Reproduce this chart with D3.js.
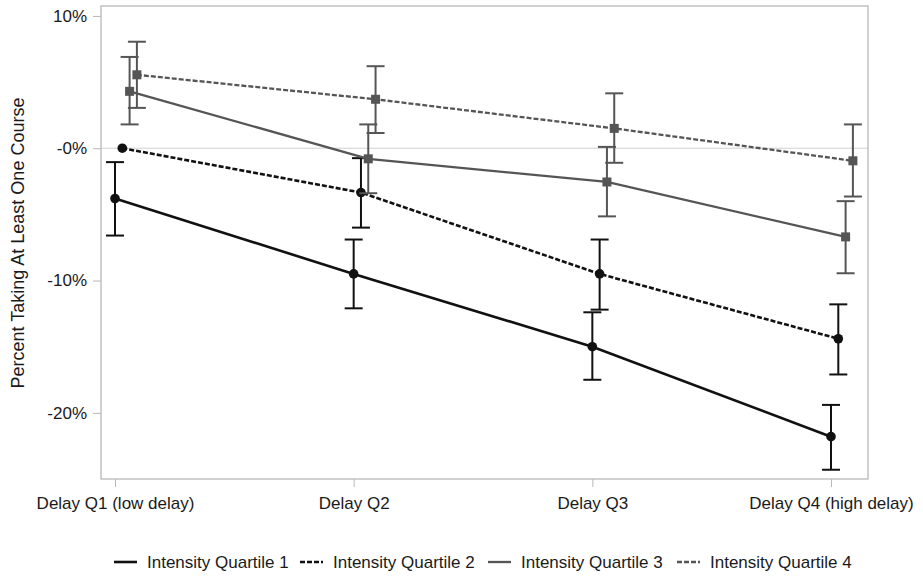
<!DOCTYPE html>
<html lang="en">
<head>
<meta charset="utf-8">
<title>Percent taking at least one course</title>
<script src="https://d3js.org/d3.v7.min.js"></script>
<style>
    body { margin: 0; background: #fff; }
    svg text { font-family: "Liberation Sans", Arial, sans-serif; fill: #1a1a1a; }
    .tick text { font-size: 17px; }
</style>
</head>
<body>
<script>
// categories on the x axis
var categories = ["Delay Q1 (low delay)", "Delay Q2", "Delay Q3", "Delay Q4 (high delay)"];
var seriesNames = ["Intensity Quartile 1", "Intensity Quartile 2", "Intensity Quartile 3", "Intensity Quartile 4"];

// estimates (percent) and 95% bounds
var q1Est = [-3.8, -9.5, -15.0, -21.8];
var q1Lo  = [-6.6, -12.1, -17.5, -24.3];
var q1Hi  = [-1.05, -6.9, -12.4, -19.4];

var q2Est = [0.0, -3.35, -9.5, -14.4];
var q2Lo  = [0.0, -6.0, -12.2, -17.1];
var q2Hi  = [0.0, -0.75, -6.9, -11.8];

var q3Est = [4.3, -0.8, -2.55, -6.7];
var q3Lo  = [1.8, -3.4, -5.15, -9.45];
var q3Hi  = [6.9, 1.8, 0.1, -4.0];

var q4Est = [5.55, 3.7, 1.5, -0.95];
var q4Lo  = [3.05, 1.15, -1.1, -3.65];
var q4Hi  = [8.05, 6.2, 4.15, 1.8];

var yTicks = [10, 0, -10, -20];
var yTickLabels = ["10%", "-0%", "-10%", "-20%"];

var width = 923, height = 577;
var frame = {left: 101, right: 868, top: 6, bottom: 479};

var svg = d3.select("body").append("svg")
    .attr("width", width)
    .attr("height", height);

var x = d3.scaleLinear().domain([0, 3]).range([115, 831]);
var y = d3.scaleLinear().domain([-25, 10.75]).range([frame.bottom, frame.top]);

// dodge each series a little to the right
var dodge = [0, 7.3, 14.6, 21.9];

var series = [
    {name: seriesNames[0], est: q1Est, lo: q1Lo, hi: q1Hi, color: "#111", dash: null, marker: "circle", width: 2.6},
    {name: seriesNames[1], est: q2Est, lo: q2Lo, hi: q2Hi, color: "#111", dash: "5,2", marker: "circle", width: 2.6},
    {name: seriesNames[2], est: q3Est, lo: q3Lo, hi: q3Hi, color: "#555", dash: null, marker: "square", width: 2.3},
    {name: seriesNames[3], est: q4Est, lo: q4Lo, hi: q4Hi, color: "#555", dash: "5,2", marker: "square", width: 2.3}
];

// zero reference line
svg.append("line")
    .attr("x1", frame.left).attr("x2", frame.right)
    .attr("y1", y(0)).attr("y2", y(0))
    .attr("stroke", "#d0d0d0").attr("stroke-width", 1);

// frame
svg.append("rect")
    .attr("x", frame.left).attr("y", frame.top)
    .attr("width", frame.right - frame.left)
    .attr("height", frame.bottom - frame.top)
    .attr("fill", "none").attr("stroke", "#b8b8b8").attr("stroke-width", 1.3);

// y axis
var yAxis = svg.append("g")
    .attr("transform", "translate(" + frame.left + ",0)")
    .call(d3.axisLeft(y)
        .tickValues(yTicks)
        .tickSize(8)
        .tickPadding(6)
        .tickFormat(function(d, i) { return yTickLabels[i]; }));
yAxis.select(".domain").remove();
yAxis.selectAll(".tick line").attr("stroke", "#b8b8b8");

// x axis
var xAxis = svg.append("g")
    .attr("transform", "translate(0," + frame.bottom + ")")
    .call(d3.axisBottom(x)
        .tickValues([0, 1, 2, 3])
        .tickSize(8)
        .tickPadding(10)
        .tickFormat(function(d) { return categories[d]; }));
xAxis.select(".domain").remove();
xAxis.selectAll(".tick line").attr("stroke", "#b8b8b8");

// y axis title
svg.append("text")
    .attr("transform", "translate(24,243) rotate(-90)")
    .attr("text-anchor", "middle")
    .style("font-size", "18px")
    .text("Percent Taking At Least One Course");

var line = d3.line();

series.forEach(function(s, k) {
    var g = svg.append("g");
    var pts = s.est.map(function(v, i) { return [x(i) + dodge[k], y(v)]; });

    g.append("path")
        .attr("d", line(pts))
        .attr("fill", "none")
        .attr("stroke", s.color)
        .attr("stroke-width", s.width)
        .attr("stroke-dasharray", s.dash);

    // error bars (skip the zero-width reference cell)
    s.est.forEach(function(v, i) {
        if (s.hi[i] === s.lo[i]) return;
        var cx = x(i) + dodge[k];
        g.append("line")
            .attr("x1", cx).attr("x2", cx)
            .attr("y1", y(s.hi[i])).attr("y2", y(s.lo[i]))
            .attr("stroke", s.color).attr("stroke-width", 2);
        [s.hi[i], s.lo[i]].forEach(function(b) {
            g.append("line")
                .attr("x1", cx - 9).attr("x2", cx + 9)
                .attr("y1", y(b)).attr("y2", y(b))
                .attr("stroke", s.color).attr("stroke-width", 2);
        });
    });

    if (s.marker === "circle") {
        g.selectAll("circle").data(pts).enter().append("circle")
            .attr("cx", function(d) { return d[0]; })
            .attr("cy", function(d) { return d[1]; })
            .attr("r", 4.8)
            .attr("fill", s.color);
    } else {
        g.selectAll("rect").data(pts).enter().append("rect")
            .attr("x", function(d) { return d[0] - 4.5; })
            .attr("y", function(d) { return d[1] - 4.5; })
            .attr("width", 9).attr("height", 9)
            .attr("fill", s.color);
    }
});

// legend
var legendX = [114, 300, 488, 677];
var legend = svg.append("g").attr("transform", "translate(0,562)");
series.forEach(function(s, k) {
    legend.append("line")
        .attr("x1", legendX[k]).attr("x2", legendX[k] + 23)
        .attr("y1", 0).attr("y2", 0)
        .attr("stroke", s.color)
        .attr("stroke-width", s.width)
        .attr("stroke-dasharray", s.dash);
    legend.append("text")
        .attr("x", legendX[k] + 33)
        .attr("y", 6)
        .style("font-size", "17px")
        .text(s.name);
});
</script>
</body>
</html>
